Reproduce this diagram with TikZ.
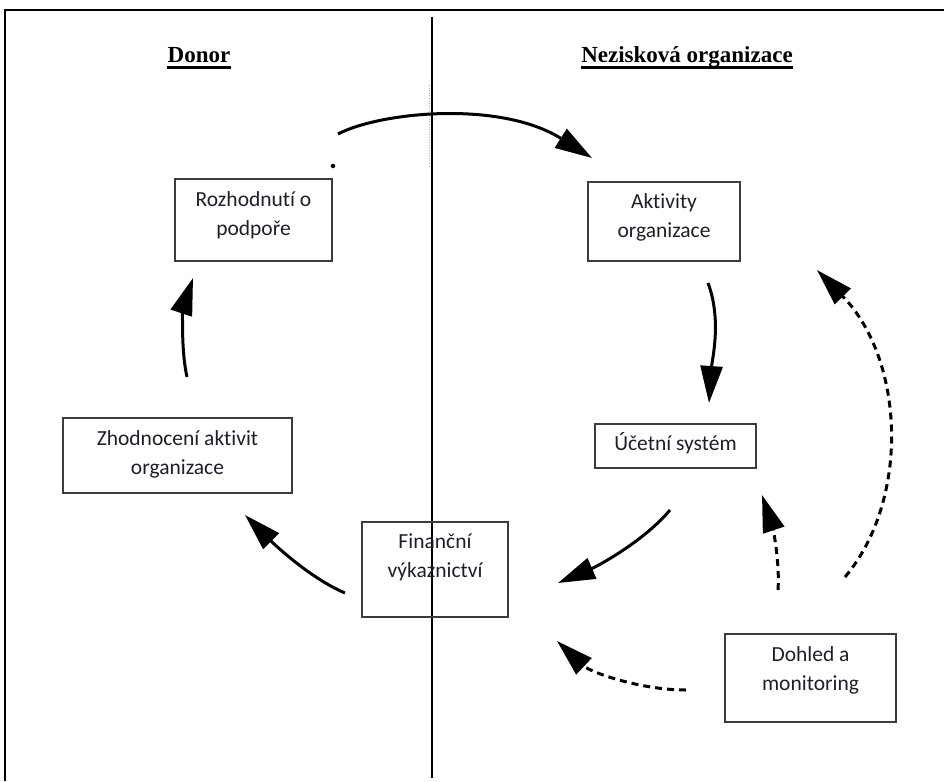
\documentclass[tikz,border=0pt]{standalone}
\usepackage{fontspec}
\setmainfont{Carlito}[RawFeature={-liga;-clig;-calt;-dlig}]
\newfontfamily\hdfont{Liberation Serif}
\usetikzlibrary{arrows.meta,calc}
\definecolor{boxline}{HTML}{3C3C3C}
\definecolor{txt}{HTML}{1E1E2A}
\tikzset{
  box/.style={draw=boxline, line width=1.4pt, inner sep=0pt},
  lbl/.style={text=txt, font=\fontsize{21.5}{29}\selectfont, align=center, inner sep=0pt},
  hdr/.style={font=\hdfont\bfseries\fontsize{23}{27}\selectfont, inner sep=0pt},
  flow/.style={line width=3pt, -{Triangle[length=37pt,width=22pt]}},
  dflow/.style={flow, dash pattern=on 7pt off 5pt},
}
\begin{document}
\begin{tikzpicture}[x=1pt,y=-1pt]
\useasboundingbox (0,0) rectangle (944,781);
% frame
\draw[line width=1.6pt] (5,781) -- (5,10) -- (944,10);
% divider
\draw[line width=1.2pt] (432,17) -- (432,778);
\draw[gray!60, dotted, line width=0.6pt] (429,85) -- (429,167);
% headers
\node[hdr, anchor=base] (donor) at (199,63) {Donor};
\node[hdr, anchor=base] (nezisk) at (687,63) {Nezisková organizace};
\draw[line width=2.4pt] ([yshift=-4.5pt]donor.base west) -- ([yshift=-4.5pt]donor.base east);
\draw[line width=2.4pt] ([yshift=-4.5pt]nezisk.base west) -- ([yshift=-4.5pt]nezisk.base east);
% boxes
\node[box, minimum width=157pt, minimum height=82pt] (rozh) at (253.5,220) {};
\node[box, minimum width=152pt, minimum height=79pt] (aktiv) at (664,221.5) {};
\node[box, minimum width=229pt, minimum height=75pt] (zhod) at (177.5,455.5) {};
\node[box, minimum width=161pt, minimum height=44pt] (ucet) at (675.5,446) {};
\node[box, minimum width=146pt, minimum height=95pt] (fin) at (435,569.5) {};
\node[box, minimum width=171pt, minimum height=88pt] (dohled) at (810.5,678) {};
% labels
\node[lbl] (rozhT) at (253.5,215) {Rozhodnut\kern0pt í o\\podpoře};
\node[lbl] (aktivT) at (664,217.5) {Akt\kern0pt ivit\kern0pt y\\organizace};
\node[lbl] (zhodT) at (177.5,454) {Zhodnocení akt\kern0pt ivit\\organizace};
\node[lbl] (ucetT) at (675.5,443) {Účetní systém};
\node[lbl] (finT) at (435,557.5) {Finanční\\výkaznict\kern0pt ví};
\node[lbl] (dohledT) at (810.5,670) {Dohled a\\monitoring};
% dot
\node[circle, fill=black, inner sep=1.6pt] (dot) at (333,166) {};
% connector ends
\coordinate (a1) at (338,134); \coordinate (a2) at (592,158);
\coordinate (b1) at (708,283); \coordinate (b2) at (709,403);
\coordinate (c1) at (845,577); \coordinate (c2) at (817,270);
\coordinate (d1) at (778,590); \coordinate (d2) at (762,495);
\coordinate (e1) at (670,510); \coordinate (e2) at (558,583);
\coordinate (f1) at (686,690); \coordinate (f2) at (557,641);
\coordinate (g1) at (345,593); \coordinate (g2) at (245,515);
\coordinate (h1) at (187,377); \coordinate (h2) at (193,278);
% connectors
\draw[flow] (a1) .. controls (380,112) and (500,100) .. (a2);
\draw[flow] (b1) .. controls (722,320) and (712,360) .. (b2);
\draw[dflow] (c1) .. controls (910,500) and (905,360) .. (c2);
\draw[dflow] (d1) .. controls (780,560) and (772,525) .. (d2);
\draw[flow] (e1) .. controls (645,540) and (600,565) .. (e2);
\draw[dflow] (f1) .. controls (640,690) and (590,672) .. (f2);
\draw[flow] (g1) .. controls (310,578) and (275,545) .. (g2);
\draw[flow] (h1) .. controls (180,345) and (184,305) .. (h2);
\end{tikzpicture}
\end{document}
